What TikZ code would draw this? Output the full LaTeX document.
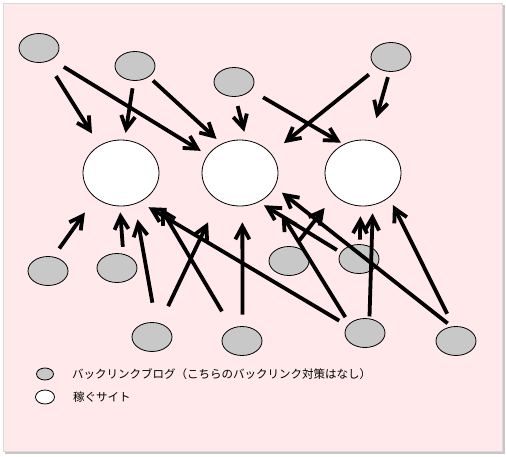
\documentclass[tikz,border=0pt]{standalone}
\usepackage{fontspec}
\newfontfamily\jpfont{Noto Sans CJK JP}
\usetikzlibrary{shapes.geometric,arrows.meta,positioning}

\definecolor{blogfill}{RGB}{200,200,200}
\definecolor{paper}{RGB}{255,233,234}
\tikzset{
  blog/.style={ellipse,draw,line width=0.8pt,fill=blogfill,minimum width=40pt,minimum height=29pt,inner sep=0pt},
  site/.style={ellipse,draw,line width=0.8pt,fill=white,minimum width=76pt,minimum height=66pt,inner sep=0pt},
  link/.style={line width=3.8pt,-{Straight Barb[length=13pt,width=14pt]}},
  keytext/.style={font=\jpfont\fontsize{11.5}{13}\selectfont,inner sep=0pt,anchor=west}
}

\begin{document}
\begin{tikzpicture}[x=1pt,y=-1pt]
  \useasboundingbox (0,0) rectangle (506,456);
  \fill[black!22] (5,5) rectangle (505,454);
  \draw[black!15,line width=1pt,fill=paper] (3,3) rectangle (502,451);

  \node[blog] (B1) at (39,48) {};
  \node[blog] (B2) at (135,66) {};
  \node[blog] (B3) at (234,82) {};
  \node[blog] (B4) at (391,57) {};

  \node[site] (S1) at (121,173) {};
  \node[site] (S2) at (240,173) {};
  \node[site] (S3) at (363,173) {};

  \node[blog] (L1) at (48,271) {};
  \node[blog] (L2) at (117,268) {};
  \node[blog] (L3) at (152,337) {};
  \node[blog] (L4) at (242,341) {};
  \node[blog] (M1) at (289,261) {};
  \node[blog] (M2) at (359,259) {};
  \node[blog] (R1) at (365,333) {};
  \node[blog] (R2) at (456,341) {};

  \draw[link,shorten <=17pt,shorten >=14pt] (B1.-60) -- (S1.128);
  \draw[link,shorten <=14pt,shorten >=8pt] (B1.-42) -- (S2.151);
  \draw[link,shorten <=7.5pt,shorten >=7pt] (B2.-95) -- (S1.84);
  \draw[link,shorten <=5.5pt,shorten >=7pt] (B2.-38) -- (S2.122);
  \draw[link,shorten <=9.5pt,shorten >=8.5pt] (B3.-85) -- (S2.79);
  \draw[link,shorten <=14pt,shorten >=3pt] (B3.-26) -- (S3.124);
  \draw[link,shorten <=10.5pt,shorten >=16.5pt] (B4.-142) -- (S2.32);
  \draw[link,shorten <=5.5pt,shorten >=23pt] (B4.-96) -- (S3.78);

  \draw[link,shorten <=10pt,shorten >=18pt] (L1.69) -- (S1.-136);
  \draw[link,shorten <=7pt,shorten >=6pt] (L2.66) -- (S1.-92);
  \draw[link,shorten <=20pt,shorten >=15.5pt] (L3.75) -- (S1.-66);
  \draw[link,shorten <=19pt,shorten >=24pt] (L3.60) -- (S2.-128);
  \draw[link,shorten <=19.5pt,shorten >=17pt] (L4.128) -- (S1.-33);
  \draw[link,shorten <=11.5pt,shorten >=16pt] (L4.88) -- (S2.-86);
  \draw[link,shorten <=9.5pt,shorten >=10pt] (R1.157) -- (S1.-57);
  \draw[link,shorten <=7.5pt,shorten >=16pt] (M1.69) -- (S3.-142);
  \draw[link,shorten <=4.5pt,shorten >=6pt] (M2.160) -- (S2.-57);
  \draw[link,shorten <=7.5pt,shorten >=23pt] (R1.149) -- (S2.-36);
  \draw[link,shorten <=2pt,shorten >=8pt] (R1.73) -- (S3.-73);
  \draw[link,shorten <=5pt,shorten >=9pt] (R2.107) -- (S2.-22);
  \draw[link,shorten <=14pt,shorten >=8.5pt] (R2.100) -- (S3.-43);
  \draw[link,shorten <=4.5pt,shorten >=10pt] (M2.87) -- (S3.-94);

  \node[blog,minimum width=17pt,minimum height=12pt] (keyblog) at (45,374) {};
  \node[site,minimum width=19pt,minimum height=14pt] (keysite) at (45,397) {};
  \node[keytext,right=18pt of keyblog] (blogtext) {バックリンクブログ（こちらのバックリンク対策はなし）};
  \node[keytext,right=18pt of keysite] (sitetext) {稼ぐサイト};
\end{tikzpicture}
\end{document}
